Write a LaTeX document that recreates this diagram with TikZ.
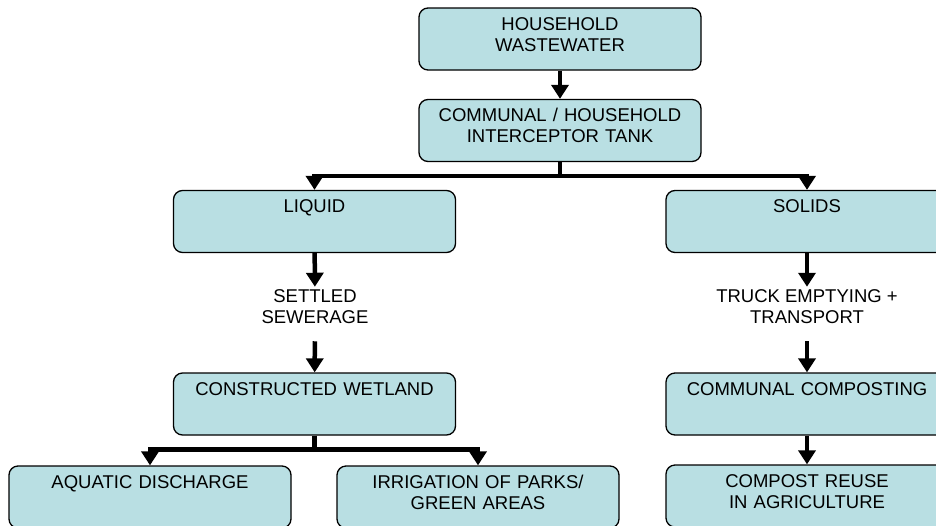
\documentclass[tikz,border=0pt]{standalone}
\usepackage{fontspec}
\setmainfont{Liberation Sans}
\usepackage{tikz}
\usetikzlibrary{positioning}
\usetikzlibrary{arrows.meta}
\usepackage{xcolor}
\definecolor{tankblue}{RGB}{185,223,227}

\begin{document}
\begin{tikzpicture}[x=1pt, y=1pt,
    stage/.style={draw, line width=1.3pt, rounded corners=9pt, fill=tankblue,
        text width=270pt, align=center, inner xsep=6pt, inner ysep=4pt,
        text height=18pt, text depth=36pt,
        font=\fontsize{18.5}{21}\selectfont},
    flowlabel/.style={align=center, inner sep=3pt,
        font=\fontsize{18.5}{21}\selectfont},
    flow/.style={line width=4.5pt, -{Triangle[width=17pt,length=14pt]}}]
    \clip (0,0) rectangle (936,-525);
    \fill[white] (0,0) rectangle (936,-525);

    % Source and tank
    \node[stage] (wastewater) at (560,-39) {HOUSEHOLD\\WASTEWATER};
    \node[stage] (tank) at (560,-130.5) {COMMUNAL / HOUSEHOLD\\INTERCEPTOR TANK};

    % Liquid branch
    \node[stage] (liquid) at (314.5,-221.5) {LIQUID};
    \node[flowlabel] (settled) at (315,-307) {SETTLED\\SEWERAGE};
    \node[stage] (wetland) at (314.5,-404) {CONSTRUCTED WETLAND};
    \node[stage] (discharge) at (150,-497) {AQUATIC DISCHARGE};
    \node[stage] (irrigation) at (478,-497) {IRRIGATION OF PARKS/\\GREEN AREAS};

    % Solids branch
    \node[stage] (solids) at (807,-221.5) {SOLIDS};
    \node[flowlabel] (truck) at (807,-307) {TRUCK EMPTYING +\\TRANSPORT};
    \node[stage] (composting) at (807,-404) {COMMUNAL COMPOSTING};
    \node[stage] (reuse) at (807,-496) {COMPOST REUSE\\IN AGRICULTURE};

    % Connectors
    \draw[flow] (wastewater) -- (tank);
    \draw[flow] (tank.south) -- ++(0,-14) -| (liquid.north);
    \draw[flow] (tank.south) -- ++(0,-14) -| (solids.north);
    \draw[flow] (liquid) -- (settled);
    \draw[flow, shorten <=14pt] (settled) -- (wetland);
    \draw[flow] (solids) -- (truck);
    \draw[flow, shorten <=14pt] (truck) -- (composting);
    \draw[flow] (wetland.south) -- ++(0,-14) -| (discharge.north);
    \draw[flow] (wetland.south) -- ++(0,-14) -| (irrigation.north);
    \draw[flow] (composting) -- (reuse);
\end{tikzpicture}
\end{document}
